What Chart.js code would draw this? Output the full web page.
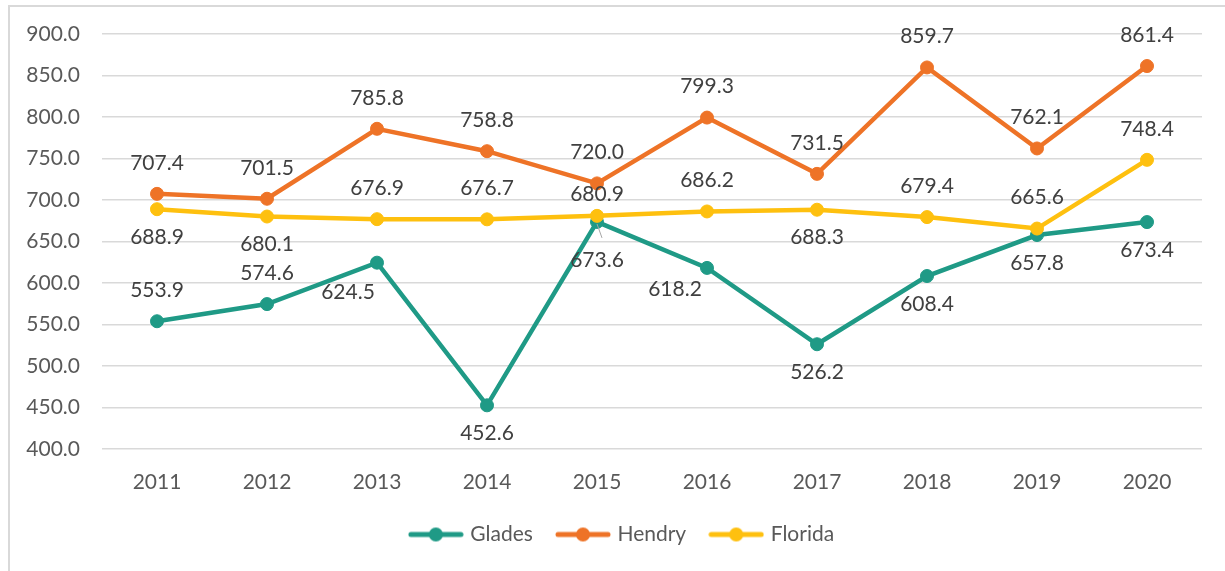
<!DOCTYPE html>
<html>
<head>
<meta charset="utf-8">
<script src="https://cdn.jsdelivr.net/npm/chart.js@4"></script>
<style>
  html, body { margin: 0; padding: 0; background: #fff; overflow: hidden; }
  #frame {
    position: absolute; left: 8px; top: 5px;
    width: 1240px; height: 600px;
    border-left: 2px solid #d9d9d9; border-top: 2px solid #d9d9d9;
  }
  #box { position: absolute; left: 0; top: 0; width: 1215px; height: 564px; }
</style>
</head>
<body>
<div id="frame"><div id="box"><canvas id="chart"></canvas></div></div>
<script>
const years = ["2011", "2012", "2013", "2014", "2015", "2016", "2017", "2018", "2019", "2020"];
const glades = [553.9, 574.6, 624.5, 452.6, 673.6, 618.2, 526.2, 608.4, 657.8, 673.4];
const hendry = [707.4, 701.5, 785.8, 758.8, 720.0, 799.3, 731.5, 859.7, 762.1, 861.4];
const florida = [688.9, 680.1, 676.9, 676.7, 680.9, 686.2, 688.3, 679.4, 665.6, 748.4];

// which side of its point each value label goes
const gladesSide = ["above", "above", "belowLeft", "below", "belowLeader", "left", "below", "below", "below", "below"];
const hendrySide = ["above", "above", "above", "above", "above", "above", "above", "above", "above", "above"];
const floridaSide = ["below", "below", "above", "above", "aboveNear", "above", "below", "above", "above", "above"];

const TEAL = "#1f9a86";
const ORANGE = "#ee7327";
const YELLOW = "#fec00f";
const FONT = "Lato, 'Open Sans', sans-serif";

const sideOffsets = {
  above: [0, -31],
  aboveNear: [0, -22],
  below: [0, 28],
  belowLeader: [0, 38],
  belowLeft: [-29, 30],
  left: [-32, 21],
};

const valueLabels = {
  id: "valueLabels",
  afterDatasetsDraw(chart) {
    const ctx = chart.ctx;
    ctx.save();
    ctx.font = "21px " + FONT;
    ctx.fillStyle = "#404040";
    ctx.textAlign = "center";
    ctx.textBaseline = "middle";
    chart.data.datasets.forEach((ds, di) => {
      const meta = chart.getDatasetMeta(di);
      meta.data.forEach((pt, i) => {
        const side = ds.labelSide[i];
        const [dx, dy] = sideOffsets[side];
        if (side === "belowLeader") {
          ctx.strokeStyle = "#a6a6a6";
          ctx.lineWidth = 1;
          ctx.beginPath();
          ctx.moveTo(pt.x, pt.y + 2);
          ctx.lineTo(pt.x + 5, pt.y + 16);
          ctx.stroke();
        }
        ctx.fillText(ds.data[i].toFixed(1), pt.x + dx, pt.y + dy);
      });
    });
    ctx.restore();
  },
};

// nudge the legend a little right of the canvas centre
const legendNudge = {
  id: "legendNudge",
  afterLayout(chart) {
    chart.legend.left += 17;
    chart.legend.right += 17;
  },
};

// legend marker: short line with a dot in the middle
function legendMarker(color) {
  const c = document.createElement("canvas");
  c.width = 56;
  c.height = 16;
  const g = c.getContext("2d");
  g.strokeStyle = color;
  g.lineWidth = 5;
  g.lineCap = "round";
  g.beginPath();
  g.moveTo(3, 8);
  g.lineTo(53, 8);
  g.stroke();
  g.fillStyle = color;
  g.beginPath();
  g.arc(28, 8, 7, 0, Math.PI * 2);
  g.fill();
  return c;
}

function series(label, data, color, side, order) {
  return {
    label,
    data,
    labelSide: side,
    order,
    borderColor: color,
    backgroundColor: color,
    borderWidth: 4.5,
    pointRadius: 6.5,
    pointBorderWidth: 1,
    pointBackgroundColor: color,
    pointBorderColor: color,
    tension: 0,
  };
}

new Chart("chart", {
  type: "line",
  data: {
    labels: years,
    datasets: [
      series("Glades", glades, TEAL, gladesSide, 2),
      series("Hendry", hendry, ORANGE, hendrySide, 1),
      series("Florida", florida, YELLOW, floridaSide, 0),
    ],
  },
  plugins: [valueLabels, legendNudge],
  options: {
    responsive: true,
    maintainAspectRatio: false,
    animation: false,
    layout: { padding: { top: 27, right: 23, left: 0, bottom: 16 } },
    plugins: {
      tooltip: { enabled: false },
      legend: {
        position: "bottom",
        labels: {
          usePointStyle: true,
          pointStyleWidth: 48,
          padding: 26,
          color: "#595959",
          font: { family: FONT, size: 21 },
          generateLabels: (chart) =>
            chart.data.datasets.map((ds, i) => ({
              text: ds.label,
              fontColor: "#595959",
              pointStyle: legendMarker(ds.borderColor),
              datasetIndex: i,
              lineWidth: 0,
            })),
        },
      },
    },
    scales: {
      x: {
        offset: true,
        grid: { display: false },
        border: { display: false },
        ticks: {
          color: "#595959",
          font: { family: FONT, size: 21 },
          padding: 13,
        },
        afterFit: (s) => { s.height = 49; },
      },
      y: {
        min: 400,
        max: 900,
        grid: { color: "#d9d9d9", lineWidth: 1.5, drawTicks: false },
        border: { display: false },
        ticks: {
          stepSize: 50,
          color: "#595959",
          font: { family: FONT, size: 21 },
          padding: 22,
          callback: (v) => v.toFixed(1),
        },
        afterFit: (s) => {
          s.width = 92;
          s.paddingTop = 0;
          s.paddingBottom = 0;
        },
      },
    },
  },
});
</script>
</body>
</html>
